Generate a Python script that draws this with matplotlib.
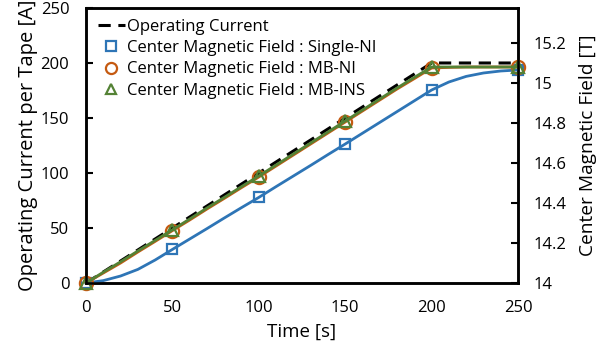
import numpy as np
import matplotlib
matplotlib.use("Agg")
import matplotlib.pyplot as plt
from matplotlib.lines import Line2D
from matplotlib.ticker import FuncFormatter

plt.rcParams['font.family'] = ['Open Sans', 'DejaVu Sans']

# operating current [A]
t_cur = [0, 200, 250]
current = [0, 200, 200]

# center magnetic field [T], read every 10 s
t_field = [0, 10, 20, 30, 40, 50, 60, 70, 80, 90, 100, 110, 120, 130, 140,
           150, 160, 170, 180, 190, 200, 210, 220, 230, 240, 250]
single_ni = [14.000, 14.012, 14.035, 14.068, 14.115, 14.168, 14.220, 14.272,
             14.325, 14.377, 14.428, 14.482, 14.535, 14.588, 14.642, 14.695,
             14.749, 14.803, 14.857, 14.911, 14.965, 15.005, 15.033, 15.050,
             15.060, 15.065]
mb_ni = [14.000, 14.050, 14.100, 14.155, 14.208, 14.262, 14.315, 14.370,
         14.423, 14.477, 14.530, 14.585, 14.640, 14.695, 14.750, 14.805,
         14.860, 14.915, 14.970, 15.022, 15.075, 15.078, 15.080, 15.080,
         15.080, 15.080]
mb_ins = [14.000, 14.054, 14.106, 14.160, 14.213, 14.266, 14.320, 14.375,
          14.428, 14.482, 14.535, 14.590, 14.645, 14.700, 14.755, 14.810,
          14.865, 14.920, 14.975, 15.028, 15.080, 15.080, 15.080, 15.080,
          15.080, 15.080]

blue = '#2E75B6'
orange = '#C55A11'
green = '#548235'

fig = plt.figure(figsize=(6.16, 3.47), dpi=100)
ax = fig.add_axes([0.1396, 0.1844, 0.7014, 0.7926])
ax2 = ax.twinx()

dash = (0, (4, 2.5))
ax.plot(t_cur, current, color='black', lw=2.2, ls=dash, zorder=3)

ax2.plot(t_field, single_ni, color=blue, lw=2, marker='s', markersize=7.5,
         markevery=5, markerfacecolor='none', markeredgewidth=1.6, clip_on=False)
ax2.plot(t_field, mb_ni, color=orange, lw=2, marker='o', markersize=9.5,
         markevery=5, markerfacecolor='none', markeredgewidth=1.6, clip_on=False)
ax2.plot(t_field, mb_ins, color=green, lw=2, marker='^', markersize=8.5,
         markevery=5, markerfacecolor='none', markeredgewidth=1.6, clip_on=False)

ax.set_xlim(0, 250)
ax.set_ylim(0, 250)
ax2.set_ylim(14, 15.375)
ax.set_xticks([0, 50, 100, 150, 200, 250])
ax.set_yticks([0, 50, 100, 150, 200, 250])
ax2.set_yticks([14, 14.2, 14.4, 14.6, 14.8, 15, 15.2])
ax2.yaxis.set_major_formatter(FuncFormatter(lambda v, p: '%g' % round(v, 2)))

ax.tick_params(axis='x', length=0, labelsize=12, pad=12)
ax.tick_params(axis='y', direction='in', length=5, width=1.5, labelsize=12, pad=12)
ax2.tick_params(axis='y', direction='in', length=5, width=1.5, labelsize=12, pad=11)
for a in (ax, ax2):
    for s in a.spines.values():
        s.set_linewidth(1.8)

ax.set_xlabel('Time [s]', fontsize=13.5, labelpad=5)
ax.set_ylabel('Operating Current per Tape [A]', fontsize=14.5, labelpad=2)
ax2.set_ylabel('Center Magnetic Field [T]', fontsize=13.8, labelpad=9)

handles = [
    Line2D([], [], color='black', lw=2.2, ls=dash),
    Line2D([], [], color=blue, ls='none', marker='s', markersize=7,
           markerfacecolor='none', markeredgewidth=1.6),
    Line2D([], [], color=orange, ls='none', marker='o', markersize=8,
           markerfacecolor='none', markeredgewidth=1.6),
    Line2D([], [], color=green, ls='none', marker='^', markersize=7.5,
           markerfacecolor='none', markeredgewidth=1.6),
]
labels = ['Operating Current',
          'Center Magnetic Field : Single-NI',
          'Center Magnetic Field : MB-NI',
          'Center Magnetic Field : MB-INS']
ax2.legend(handles, labels, loc='upper left', frameon=False, fontsize=12,
           handlelength=1.6, handletextpad=0.15, labelspacing=0.32,
           borderaxespad=0, bbox_to_anchor=(0.012, 0.985))

fig.savefig('out.png', dpi=100)
